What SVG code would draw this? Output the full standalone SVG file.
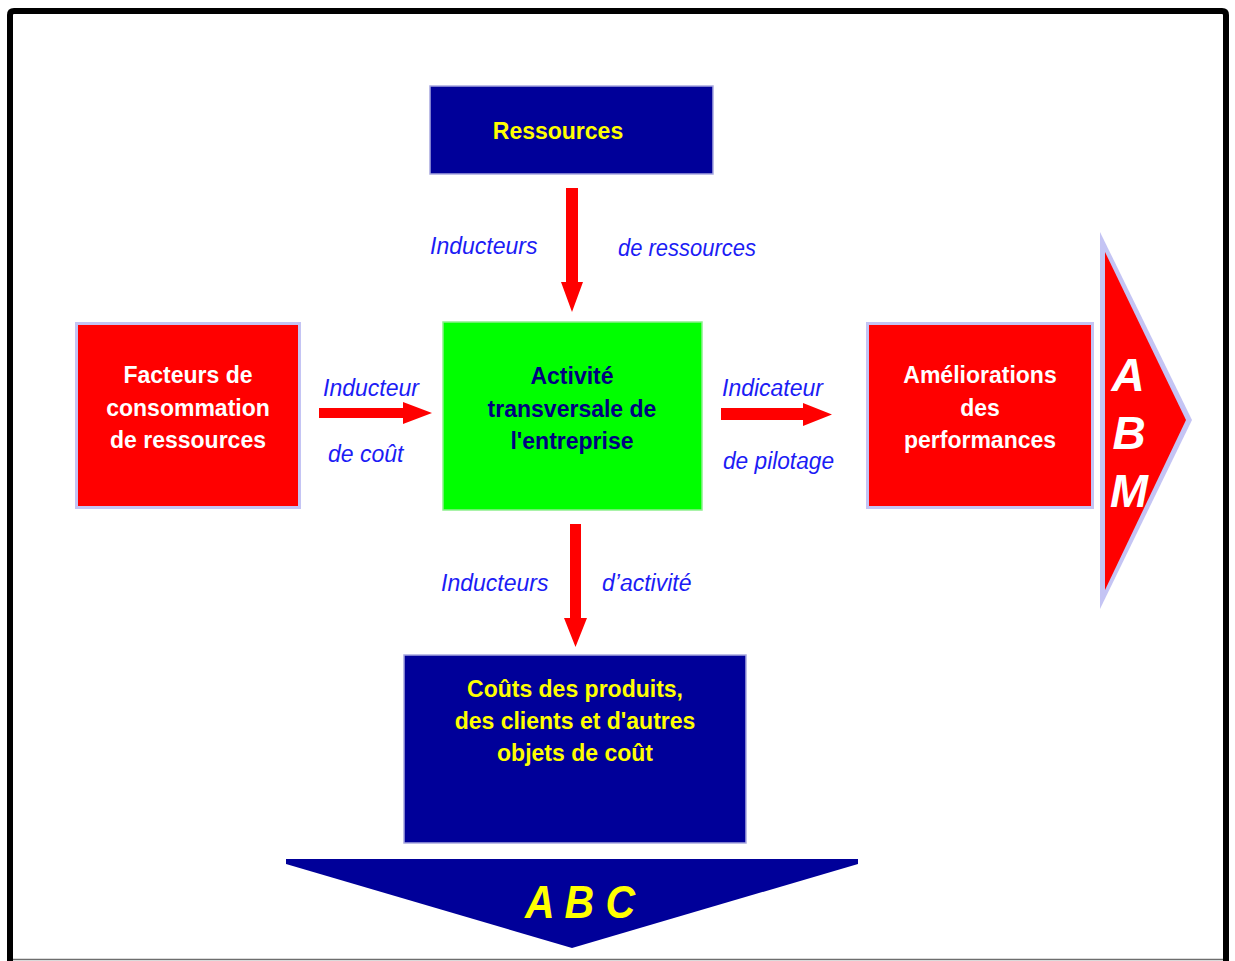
<svg xmlns="http://www.w3.org/2000/svg" width="1235" height="961" viewBox="0 0 1235 961">
  <style>
    .title { font-family: "Liberation Sans", Arial, sans-serif; font-weight: bold; font-size: 23px; text-anchor: middle; }
    .yellow { fill: #ffff00; }
    .white { fill: #ffffff; }
    .navy { fill: #000080; }
    .label { font-family: "Liberation Sans", Arial, sans-serif; font-style: italic; font-size: 23px; fill: #1c1cf5; }
    .big { font-family: "Liberation Sans", Arial, sans-serif; font-weight: bold; font-style: italic; }
    .navybox { fill: #000099; stroke: #a8a8e0; stroke-width: 1.5; }
    .redbox { fill: #ff0000; stroke: #c4c4f4; stroke-width: 3; }
    .greenbox { fill: #00ff00; stroke: #8cf08c; stroke-width: 1.5; }
    .arrow { fill: #ff0000; }
  </style>

  <rect x="0" y="0" width="1235" height="961" fill="#ffffff"/>

  <!-- page frame -->
  <path d="M10,961 V15 Q10,11 14,11 H1222 Q1226,11 1226,15 V961" fill="none" stroke="#000000" stroke-width="6"/>
  <line x1="13" y1="959.5" x2="1223" y2="959.5" stroke="#6e6e6e" stroke-width="1.5"/>

  <!-- connectors -->
  <g id="connectors">
    <polygon class="arrow" points="566,188 578,188 578,282 583,282 572,312 561,282 566,282"/>
    <polygon class="arrow" points="570,524 581,524 581,618 587,618 575.5,647 564,618 570,618"/>
    <polygon class="arrow" points="319,408 403,408 403,402 432,413 403,424 403,418 319,418"/>
    <polygon class="arrow" points="721,408 803,408 803,403 832,414.5 803,426 803,420 721,420"/>
    <text class="label" x="430" y="254">Inducteurs</text>
    <text class="label" x="618" y="256" textLength="138" lengthAdjust="spacingAndGlyphs">de ressources</text>
    <text class="label" x="323" y="396">Inducteur</text>
    <text class="label" x="328" y="462">de coût</text>
    <text class="label" x="722" y="396">Indicateur</text>
    <text class="label" x="723" y="469" textLength="111" lengthAdjust="spacingAndGlyphs">de pilotage</text>
    <text class="label" x="441" y="591">Inducteurs</text>
    <text class="label" x="602" y="591">d’activité</text>
  </g>

  <!-- Ressources -->
  <g id="ressources">
    <rect class="navybox" x="430" y="86" width="283" height="88"/>
    <text class="title yellow" x="558" y="139">Ressources</text>
  </g>

  <!-- Facteurs de consommation -->
  <g id="facteurs">
    <rect class="redbox" x="76.5" y="323.5" width="223" height="184"/>
    <text class="title white" x="188" y="383">Facteurs de</text>
    <text class="title white" x="188" y="416">consommation</text>
    <text class="title white" x="188" y="448">de ressources</text>
  </g>

  <!-- Activité transversale -->
  <g id="activite">
    <rect class="greenbox" x="443" y="322" width="259" height="188"/>
    <text class="title navy" x="572" y="384">Activité</text>
    <text class="title navy" x="572" y="417">transversale de</text>
    <text class="title navy" x="572" y="449">l'entreprise</text>
  </g>

  <!-- Améliorations des performances -->
  <g id="ameliorations">
    <rect class="redbox" x="867.5" y="323.5" width="225" height="184"/>
    <text class="title white" x="980" y="383">Améliorations</text>
    <text class="title white" x="980" y="416">des</text>
    <text class="title white" x="980" y="448">performances</text>
  </g>

  <!-- ABM arrow: lavender rim under the red head -->
  <g id="abm">
    <polygon points="1100,232 1192,420 1100,609" fill="#c4c4f4"/>
    <polygon points="1105,252 1186,420 1105,590" fill="#ff0000"/>
    <text class="big white" x="1128" y="391" font-size="46" text-anchor="middle">A</text>
    <text class="big white" x="1129" y="449" font-size="46" text-anchor="middle">B</text>
    <text class="big white" x="1129" y="507" font-size="46" text-anchor="middle" textLength="38" lengthAdjust="spacingAndGlyphs">M</text>
  </g>

  <!-- Coûts des produits -->
  <g id="couts">
    <rect class="navybox" x="404" y="655" width="342" height="188"/>
    <text class="title yellow" x="575" y="697">Coûts des produits,</text>
    <text class="title yellow" x="575" y="729">des clients et d'autres</text>
    <text class="title yellow" x="575" y="761">objets de coût</text>
  </g>

  <!-- ABC arrow -->
  <g id="abc">
    <polygon points="286,859 858,859 858,864 572,948 286,864" fill="#000099"/>
    <text class="big yellow" x="525" y="918" font-size="46" textLength="110" lengthAdjust="spacingAndGlyphs">A B C</text>
  </g>
</svg>
